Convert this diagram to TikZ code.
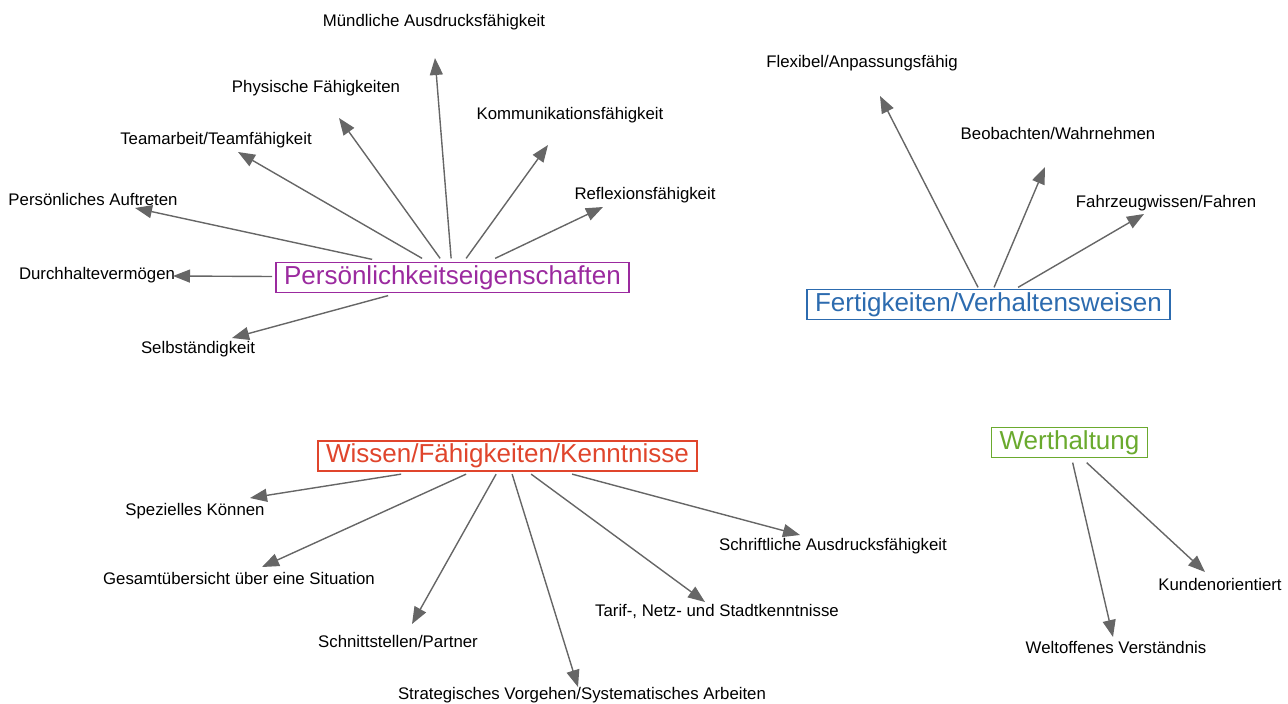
\documentclass[tikz,border=0pt]{standalone}
\usepackage{fontspec}
\setmainfont{Liberation Sans}
\usepackage{xcolor}
\usetikzlibrary{arrows.meta, calc}
\definecolor{pecol}{HTML}{9B2A9F}
\definecolor{fvcol}{HTML}{2C6BAF}
\definecolor{wfkcol}{HTML}{E0452C}
\definecolor{whcol}{HTML}{6AAA2E}
\definecolor{linkcol}{HTML}{666666}
\tikzset{
  hub/.style={rectangle, draw, line width=1.5pt, fill=white, inner xsep=8pt,
              inner ysep=3pt, outer sep=0pt, font=\fontsize{26}{28}\selectfont},
  leaf/.style={inner sep=0pt, font=\fontsize{16.8}{19}\selectfont},
  link/.style={draw=linkcol, line width=1.4pt,
               -{Triangle[length=17pt, width=13pt]}}
}

\begin{document}
\begin{tikzpicture}[x=1pt, y=-1pt]
  \useasboundingbox (0,0) rectangle (1288,704);

  % Hauptthemen
  \node[hub, draw=pecol, text=pecol] (pe) at (452.5,277.5) {Persönlichkeitseigenschaften};
  \node[hub, draw=fvcol, text=fvcol] (fv) at (988.5,304.5) {Fertigkeiten/Verhaltensweisen};
  \node[hub, draw=wfkcol, text=wfkcol] (wfk) at (507.5,456) {Wissen/Fähigkeiten/Kenntnisse};
  \node[hub, draw=whcol, text=whcol] (wh) at (1069.5,442.5) {Werthaltung};

  % Persönlichkeitseigenschaften
  \node[leaf] (muend) at (434,22) {Mündliche Ausdrucksfähigkeit};
  \node[leaf] (phys) at (316,88) {Physische Fähigkeiten};
  \node[leaf] (komm) at (570,115) {Kommunikationsfähigkeit};
  \node[leaf] (team) at (216,140) {Teamarbeit/Teamfähigkeit};
  \node[leaf] (refl) at (645,195) {Reflexionsfähigkeit};
  \node[leaf] (auftr) at (93,199) {Persönliches Auftreten};
  \node[leaf] (durch) at (97,275) {Durchhaltevermögen};
  \node[leaf] (selbst) at (198,349) {Selbständigkeit};

  % Fertigkeiten/Verhaltensweisen
  \node[leaf] (flex) at (862,63) {Flexibel/Anpassungsfähig};
  \node[leaf] (beob) at (1058,133) {Beobachten/Wahrnehmen};
  \node[leaf] (fahr) at (1166,203) {Fahrzeugwissen/Fahren};

  % Wissen/Fähigkeiten/Kenntnisse
  \node[leaf] (spez) at (195,511) {Spezielles Können};
  \node[leaf] (gesamt) at (239,578) {Gesamtübersicht über eine Situation};
  \node[leaf] (schnitt) at (398,641) {Schnittstellen/Partner};
  \node[leaf] (strat) at (582,695) {Strategisches Vorgehen/Systematisches Arbeiten};
  \node[leaf] (tarif) at (717,611) {Tarif-, Netz- und Stadtkenntnisse};
  \node[leaf] (schrift) at (833,546) {Schriftliche Ausdrucksfähigkeit};

  % Werthaltung
  \node[leaf] (kunde) at (1220,584) {Kundenorientiert};
  \node[leaf] (welt) at (1116,647) {Weltoffenes Verständnis};

  % Pfeilspitzen
  \coordinate (muend-tip) at (435,58);
  \coordinate (phys-tip) at (339,118);
  \coordinate (komm-tip) at (548,145);
  \coordinate (team-tip) at (238,152);
  \coordinate (refl-tip) at (603,207);
  \coordinate (auftr-tip) at (135,208);
  \coordinate (durch-tip) at (173,276);
  \coordinate (selbst-tip) at (232,338);
  \coordinate (flex-tip) at (880,96);
  \coordinate (beob-tip) at (1045,167);
  \coordinate (fahr-tip) at (1144,214);
  \coordinate (spez-tip) at (250,498);
  \coordinate (gesamt-tip) at (262,567);
  \coordinate (schnitt-tip) at (412,624);
  \coordinate (strat-tip) at (578,687);
  \coordinate (tarif-tip) at (705,602);
  \coordinate (schrift-tip) at (800,535);
  \coordinate (kunde-tip) at (1205,572);
  \coordinate (welt-tip) at (1113,637);

  \draw[link] ($(pe.north west)+(96,-3)$) -- (auftr-tip);
  \draw[link] ($(pe.north west)+(146,-4)$) -- (team-tip);
  \draw[link] ($(pe.north west)+(164,-4)$) -- (phys-tip);
  \draw[link] ($(pe.north west)+(175,-4)$) -- (muend-tip);
  \draw[link] ($(pe.north west)+(190,-4)$) -- (komm-tip);
  \draw[link] ($(pe.north west)+(219,-4)$) -- (refl-tip);
  \draw[link] ($(pe.west)+(-4,-1)$) -- (durch-tip);
  \draw[link] ($(pe.south west)+(112,3)$) -- (selbst-tip);

  \draw[link] ($(fv.north west)+(171,-2)$) -- (flex-tip);
  \draw[link] ($(fv.north west)+(187,-2)$) -- (beob-tip);
  \draw[link] ($(fv.north west)+(211,-2)$) -- (fahr-tip);

  \draw[link] ($(wfk.south west)+(83,3)$) -- (spez-tip);
  \draw[link] ($(wfk.south west)+(148,3)$) -- (gesamt-tip);
  \draw[link] ($(wfk.south west)+(178,3)$) -- (schnitt-tip);
  \draw[link] ($(wfk.south west)+(194,3)$) -- (strat-tip);
  \draw[link] ($(wfk.south west)+(213,3)$) -- (tarif-tip);
  \draw[link] ($(wfk.south west)+(254,3)$) -- (schrift-tip);

  \draw[link] ($(wh.south west)+(81,5)$) -- (welt-tip);
  \draw[link] ($(wh.south west)+(95,5)$) -- (kunde-tip);
\end{tikzpicture}
\end{document}
